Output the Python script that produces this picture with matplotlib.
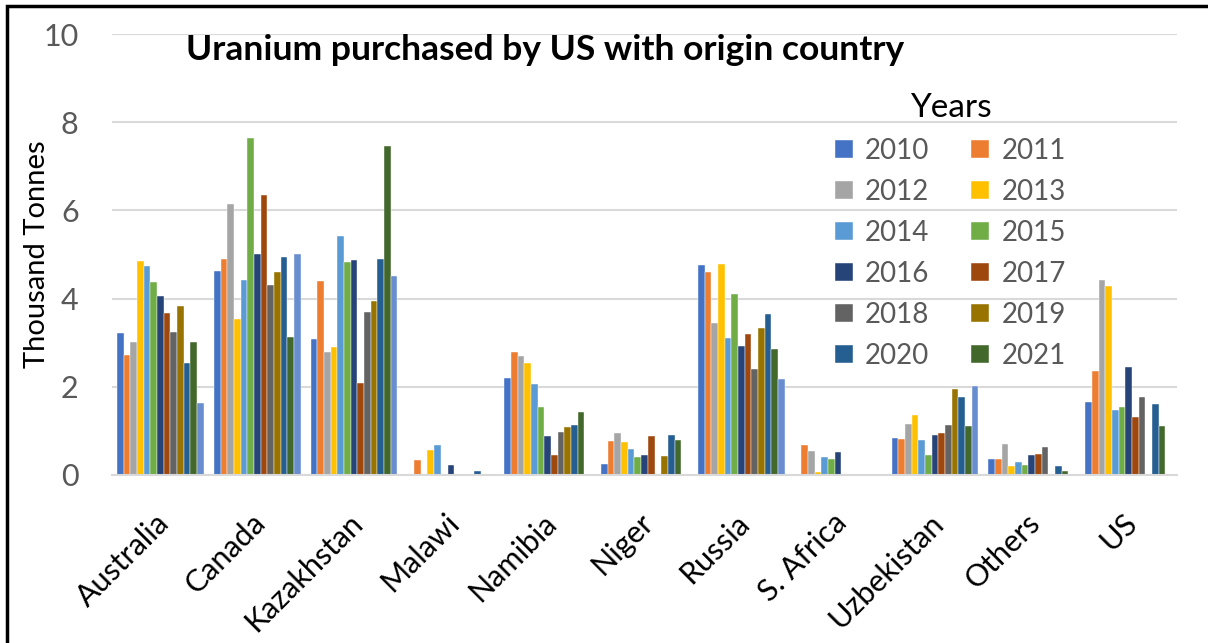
import numpy as np
import matplotlib
matplotlib.use("Agg")
import matplotlib.pyplot as plt
import matplotlib.transforms as mtransforms
from matplotlib.patches import Rectangle

plt.rcParams['font.family'] = ['Lato', 'DejaVu Sans']

countries = ['Australia', 'Canada', 'Kazakhstan', 'Malawi', 'Namibia', 'Niger',
             'Russia', 'S. Africa', 'Uzbekistan', 'Others', 'US']

# thousand tonnes per origin country, one list per year
v2010 = [3.21, 4.63, 3.08, 0, 2.21, 0.24, 4.77, 0, 0.84, 0.36, 1.66]
v2011 = [2.71, 4.90, 4.40, 0.34, 2.80, 0.77, 4.60, 0.67, 0.81, 0.36, 2.35]
v2012 = [3.02, 6.14, 2.80, 0, 2.69, 0.95, 3.44, 0.54, 1.16, 0.70, 4.43]
v2013 = [4.86, 3.53, 2.91, 0.57, 2.55, 0.75, 4.79, 0.06, 1.36, 0.20, 4.29]
v2014 = [4.74, 4.43, 5.42, 0.68, 2.07, 0.59, 3.10, 0.41, 0.79, 0.29, 1.48]
v2015 = [4.38, 7.64, 4.83, 0, 1.55, 0.41, 4.10, 0.36, 0.45, 0.23, 1.55]
v2016 = [4.06, 5.02, 4.88, 0.23, 0.88, 0.45, 2.93, 0.52, 0.90, 0.45, 2.44]
v2017 = [3.67, 6.34, 2.09, 0, 0.45, 0.88, 3.19, 0, 0.95, 0.48, 1.32]
v2018 = [3.24, 4.31, 3.69, 0, 0.97, 0, 2.41, 0, 1.13, 0.63, 1.76]
v2019 = [3.83, 4.60, 3.94, 0, 1.09, 0.43, 3.33, 0, 1.96, 0, 0]
v2020 = [2.53, 4.95, 4.90, 0.09, 1.13, 0.90, 3.64, 0, 1.78, 0.20, 1.60]
v2021 = [3.02, 3.12, 7.47, 0, 1.43, 0.79, 2.85, 0, 1.11, 0.09, 1.11]
v2022 = [1.64, 5.02, 4.51, 0, 0, 0, 2.17, 0, 2.01, 0, 0]

years = ['2010', '2011', '2012', '2013', '2014', '2015', '2016', '2017',
         '2018', '2019', '2020', '2021', '2022']
series = [v2010, v2011, v2012, v2013, v2014, v2015, v2016, v2017,
          v2018, v2019, v2020, v2021, v2022]
colors = ['#4472C4', '#ED7D31', '#A5A5A5', '#FFC000', '#5B9BD5', '#70AD47',
          '#264478', '#9E480E', '#636363', '#997300', '#255E91', '#43682B',
          '#698ED0']

W, H = 1208, 643
fig = plt.figure(figsize=(W / 100, H / 100), dpi=100)
ax = fig.add_axes([112 / W, 1 - 475 / H, (1177 - 112) / W, (475 - 34) / H])

x = np.arange(len(countries))
n = len(series)
bw = 1 / (n + 1.5)
bars = []
for i, (vals, c) in enumerate(zip(series, colors)):
    off = (i - (n - 1) / 2) * bw
    b = ax.bar(x + off, vals, bw, color=c, label=years[i], edgecolor='white',
               linewidth=0.3, zorder=2)
    bars.append(b)

ax.set_xlim(-0.5, len(countries) - 0.5)
ax.set_ylim(0, 10)
ax.set_yticks([0, 2, 4, 6, 8, 10])
ax.yaxis.grid(True, color='#D9D9D9', linewidth=1.5, zorder=0)
ax.set_axisbelow(True)
for s in ['top', 'right', 'left']:
    ax.spines[s].set_visible(False)
ax.spines['bottom'].set_color('#D9D9D9')
ax.spines['bottom'].set_linewidth(1.5)
ax.tick_params(axis='y', length=0, pad=24, labelsize=22, labelcolor='#595959')
ax.tick_params(axis='x', length=0, pad=24)
ax.set_xticks(x)
ax.set_xticklabels(countries, rotation=45, ha='right', rotation_mode='anchor',
                   fontsize=22)
shift = mtransforms.ScaledTranslation(-6 / 100, 0, fig.dpi_scale_trans)
for lab in ax.get_xticklabels():
    lab.set_transform(lab.get_transform() + shift)
ax.set_ylabel('Thousand Tonnes', fontsize=21)
ax.yaxis.set_label_coords(-62 / 1065, 0.5)

ax.text(0.4066, 0.964, 'Uranium purchased by US with origin country',
        transform=ax.transAxes, ha='center', va='center', fontsize=25.5,
        fontweight='bold')

# legend filled row by row: 2010 2011 / 2012 2013 / ...
order = list(range(0, 12, 2)) + list(range(1, 12, 2))
leg = ax.legend([bars[i] for i in order], [years[i] for i in order],
                ncol=2, loc='upper left', bbox_to_anchor=(0.655, 0.923),
                frameon=False, fontsize=20, title='Years', title_fontsize=24,
                handlelength=0.65, handleheight=0.65, handletextpad=0.45,
                columnspacing=1.5, labelspacing=0.54)
for t in leg.get_texts():
    t.set_color('#595959')

fig.patches.append(Rectangle((6.5 / W, -0.1), 1.2, 1.1 - 6.5 / H,
                             transform=fig.transFigure, fill=False,
                             edgecolor='black', linewidth=2.5))

fig.savefig('out.png', dpi=100)
